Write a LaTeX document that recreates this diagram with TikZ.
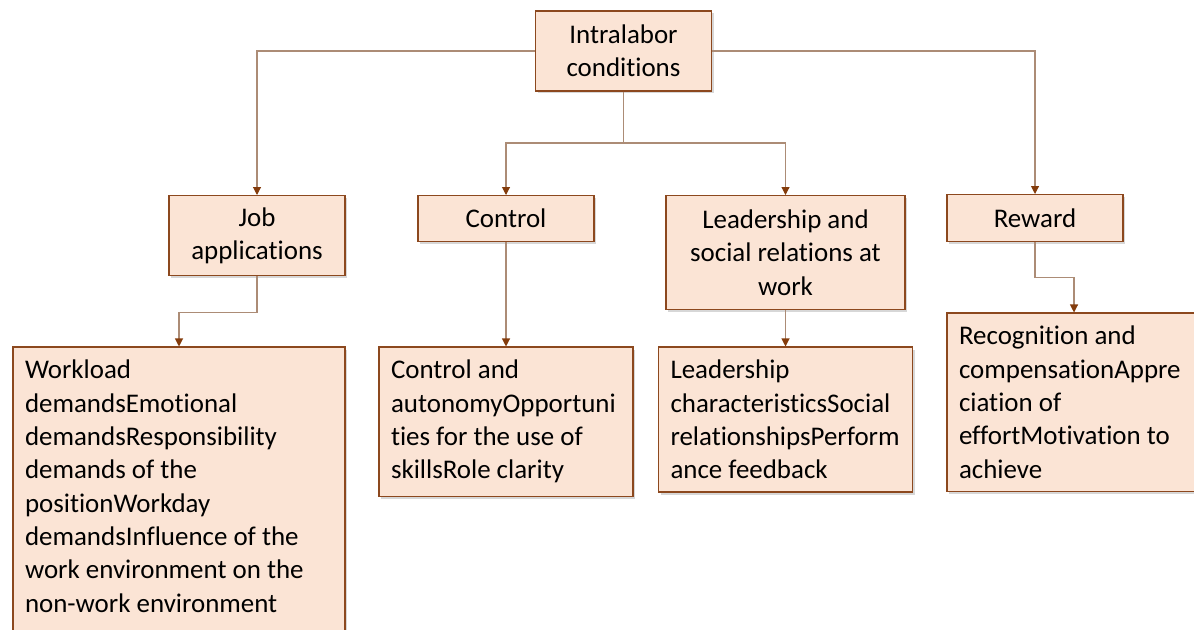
\documentclass[tikz,border=0pt]{standalone}
\usepackage{fontspec}
\setmainfont{Carlito}[Ligatures=NoCommon]
\usetikzlibrary{arrows.meta,positioning,shadows}
\usepackage{xcolor}
\definecolor{boxColor}{RGB}{251,228,213}
\definecolor{edgeColor}{RGB}{140,72,30}
\definecolor{lineColor}{RGB}{172,140,118}
\definecolor{tipColor}{RGB}{132,60,12}
\newcommand{\diagfont}{\fontsize{20.2}{25}\selectfont}

\begin{document}
\begin{tikzpicture}[x=0.75pt, y=-0.75pt,
        cat/.style={draw=edgeColor, line width=1.1pt, fill=boxColor, minimum width=132pt, align=center, font=\diagfont,
          drop shadow={shadow xshift=1.8pt, shadow yshift=-1.8pt, opacity=0.35, fill=black!45}},
        item/.style={draw=edgeColor, line width=1.1pt, fill=boxColor, align=flush left, font=\diagfont, text width=172.5pt,
          inner xsep=9pt, inner ysep=9.75pt,
          drop shadow={shadow xshift=1.8pt, shadow yshift=-1.8pt, opacity=0.35, fill=black!45}},
        conn/.style={-{Triangle[length=6pt, width=6pt, color=tipColor]}, line width=0.8pt, lineColor}
      ]
      \clip (0,0) rectangle (1194,629);
      \useasboundingbox (0,0) rectangle (1194,629);

      \node[cat, minimum height=60pt] (top) at (623.5,51) {Intralabor\\conditions};
      \node[cat, minimum height=60pt, anchor=north] (job) at (257,195) {Job\\applications};
      \node[cat, minimum height=34.5pt, anchor=north] (ctrl) at (506,195) {Control};
      \node[cat, minimum width=179.25pt, minimum height=85.5pt, anchor=north] (lead) at (785.5,195) {Leadership and\\social relations at\\work};
      \node[cat, minimum height=35.25pt, anchor=north] (reward) at (1035,194) {Reward};

      % the last box runs past the bottom edge
      \node[item, text width=231pt, below=52.5pt of job, xshift=-58.5pt] (work) {Workload\\demandsEmotional\\demandsResponsibility\\demands of the\\positionWorkday\\demandsInfluence of the\\work environment on the\\non-work environment\\~};
      \node[item, below=78pt of ctrl] (ctrlitems) {Control and\\autonomyOpportuni\\ties for the use of\\skillsRole clarity};
      \node[item, below=27pt of lead] (leaditems) {Leadership\\characteristicsSocial\\relationshipsPerform\\ance feedback};
      \node[item, below=52.5pt of reward, xshift=29.25pt] (rewitems) {Recognition and\\compensationAppre\\ciation of\\effortMotivation to\\achieve};

      \coordinate (split) at (623.5,143);

      \draw[conn] (top.west) -| (job.north);
      \draw[conn] (top.east) -| (reward.north);
      \draw[line width=0.8pt, lineColor] (top.south) -- (split);
      \draw[conn] (split) -| (ctrl.north);
      \draw[conn] (split) -| (lead.north);
      \draw[conn] (job.south) -- ++(0,36) -| (work.north);
      \draw[conn] (ctrl.south) -- (ctrlitems.north);
      \draw[conn] (lead.south) -- (leaditems.north);
      \draw[conn] (reward.south) -- ++(0,35) -| (rewitems.north);
    \end{tikzpicture}
\end{document}
